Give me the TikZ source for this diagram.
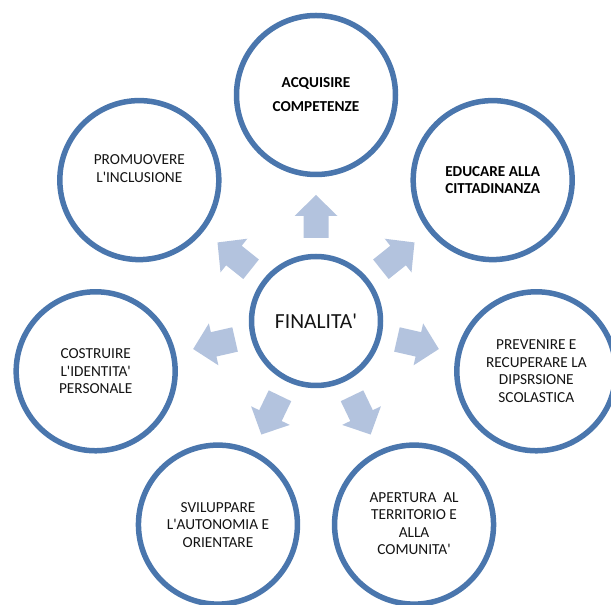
\documentclass[tikz,border=0pt]{standalone}
\usepackage{fontspec}
\setmainfont{Carlito}
\usetikzlibrary{calc}
\definecolor{ringblue}{HTML}{4A76AD}
\definecolor{arrowblue}{HTML}{B3C3DE}
\newcommand{\apos}{\textquotesingle}
\begin{document}
\begin{tikzpicture}[x=1pt,y=1pt,
  ring/.style={circle,draw=ringblue,line width=5.5pt,fill=white,minimum size=159pt,inner sep=0pt},
  hub/.style={circle,draw=ringblue,line width=5.5pt,fill=white,minimum size=129pt,inner sep=0pt},
  label/.style={align=center,font=\fontsize{15.3}{17.5}\selectfont,text=black!92},
  boldlabel/.style={label,font=\fontsize{15.2}{16.7}\selectfont\bfseries,text=black},
  blockarrow/.style={fill=arrowblue,draw=none}]
\useasboundingbox (0,0) rectangle (611,605);

% central hub
\node[hub] (hub) at (316,284) {};
\node[font=\fontsize{21.5}{24}\selectfont,text=black!92] (hubtext) at (hub) {FINALITA\apos};

% block arrows radiating from the hub
\foreach \a in {90,38.571,-12.857,-64.286,-115.714,-167.143,141.429}{
  \fill[blockarrow,shift={(hub.center)},rotate=\a]
    (83,-12.5) -- (105,-12.5) -- (105,-21.5) -- (126,0) -- (105,21.5) -- (105,12.5) -- (83,12.5) -- cycle;
}

% outer goals
\node[ring] (acq) at ($(316,284)+(90:226)$) {};
\node[ring] (edu) at ($(316,284)+(38.571:226)$) {};
\node[ring] (prev) at ($(316,284)+(-12.857:226)$) {};
\node[ring] (aper) at ($(316,284)+(-64.286:226)$) {};
\node[ring] (svil) at ($(316,284)+(-115.714:226)$) {};
\node[ring] (costr) at ($(316,284)+(-167.143:226)$) {};
\node[ring] (prom) at ($(316,284)+(141.429:226)$) {};

\node[boldlabel,font=\fontsize{15.2}{24}\selectfont\bfseries] at (acq) {ACQUISIRE\\COMPETENZE};
\node[boldlabel] at (edu) {EDUCARE ALLA\\CITTADINANZA};
\node[label] at (prev) {PREVENIRE E\\RECUPERARE LA\\DIPSRSIONE\\SCOLASTICA};
\node[label] at ($(aper)+(0,1)$) {APERTURA\ \ AL\\TERRITORIO E\\ALLA\\COMUNITA\apos};
\node[label] at (svil) {SVILUPPARE\\L\apos AUTONOMIA E\\ORIENTARE};
\node[label] at (costr) {COSTRUIRE\\L\apos IDENTITA\apos\\PERSONALE};
\node[label] at ($(prom)+(0,11.5)$) {PROMUOVERE\\L\apos INCLUSIONE};
\end{tikzpicture}
\end{document}
